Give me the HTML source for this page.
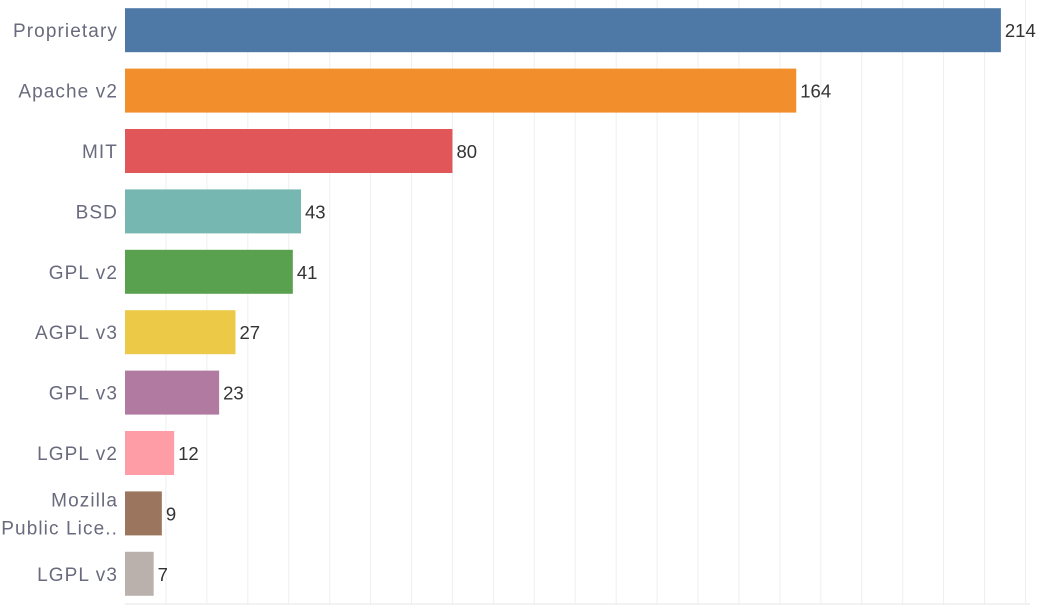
<!DOCTYPE html>
<html><head><meta charset="utf-8"><style>
body{margin:0;background:#fff;width:1050px;height:605px;overflow:hidden;font-family:"Liberation Sans",sans-serif}
</style></head><body>
<svg id="c" width="1050" height="605"></svg>
<script>
const categories=["Proprietary","Apache v2","MIT","BSD","GPL v2","AGPL v3","GPL v3","LGPL v2","Mozilla Public Lice..","LGPL v3"];
const values=[214,164,80,43,41,27,23,12,9,7];
const colors=["#4e79a7","#f28e2b","#e15759","#76b7b2","#59a14f","#edc948","#b07aa1","#ff9da7","#9c755f","#bab0ac"];
const gridTicks=[10,20,30,40,50,60,70,80,90,100,110,120,130,140,150,160,170,180,190,200,210,220];
const svg=document.getElementById('c');const NS="http://www.w3.org/2000/svg";
const x0=125,pxPer=4.093,band=60.4,top0=0,barH=44;
const xs=v=>x0+v*pxPer;const yc=i=>top0+band*i+band/2;
function mk(t,a,p){const e=document.createElementNS(NS,t);for(const k in a)e.setAttribute(k,a[k]);(p||svg).appendChild(e);return e;}
gridTicks.forEach(t=>{const l=mk('line',{x1:xs(t),x2:xs(t),y1:0,y2:604,stroke:'#efefef','stroke-width':1});

});
const ax=mk('line',{x1:x0,x2:1030,y1:604,y2:604,stroke:'#e6e6e6','stroke-width':1});


categories.forEach((c,i)=>{
 const r=mk('rect',{x:x0,y:yc(i)-barH/2,width:values[i]*pxPer,height:barH,fill:colors[i]});
 
 
 const v=mk('text',{x:xs(values[i])+4,y:yc(i)+7,'font-size':18.5,fill:'#333'});v.textContent=values[i];
 
 
 const lines=c==="Mozilla Public Lice.."?["Mozilla","Public Lice.."]:[c];
 const t=mk('text',{x:118,y:yc(i)+7-(lines.length-1)*14,'font-size':19,fill:'#6a6a7e','text-anchor':'end','letter-spacing':'1.1'});
 
 
 lines.forEach((s,k)=>{const ts=mk('tspan',{x:118,dy:k?28:0},t);ts.textContent=s;});
});
</script>
</body></html>
